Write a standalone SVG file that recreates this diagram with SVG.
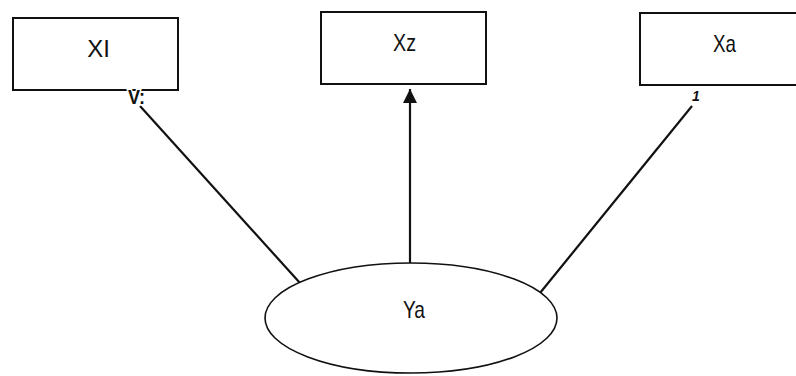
<svg xmlns="http://www.w3.org/2000/svg" width="796" height="376" viewBox="0 0 796 376">
<style>
.box{fill:#fff;stroke:#111;stroke-width:2}
.lbl{font-family:"Liberation Sans",Arial,sans-serif;font-size:24px;fill:#111;text-anchor:middle}
.edge{stroke:#111;stroke-width:2.2;fill:none}
.tag{font-family:"Liberation Sans",Arial,sans-serif;font-weight:bold;fill:#111;stroke:#fff;stroke-width:3;paint-order:stroke}
</style>
<defs>
<marker id="arr" viewBox="0 0 10 10" refX="10" refY="5" markerWidth="6.5" markerHeight="6.5" markerUnits="strokeWidth" orient="auto">
<path d="M0,0 L10,5 L0,10 z" fill="#111"/>
</marker>
</defs>
<rect width="796" height="376" fill="#fff"/>
<g id="edges">
<line class="edge" x1="300" y1="283" x2="140" y2="106"/>
<line class="edge" x1="410" y1="263" x2="410" y2="89" marker-end="url(#arr)"/>
<line class="edge" x1="540" y1="293" x2="692" y2="106"/>
</g>
<g id="node-xl">
<rect class="box" x="13" y="18" width="165" height="72"/>
<text class="lbl" x="98.5" y="57">XI</text>
</g>
<g id="node-xz">
<rect class="box" x="321" y="12" width="165" height="72"/>
<text class="lbl" x="404.5" y="51" textLength="23" lengthAdjust="spacingAndGlyphs">Xz</text>
</g>
<g id="node-xa">
<rect class="box" x="640" y="13" width="160" height="72"/>
<text class="lbl" x="724.5" y="52" textLength="23" lengthAdjust="spacingAndGlyphs">Xa</text>
</g>
<g id="node-ya">
<ellipse cx="411" cy="318" rx="146" ry="55" fill="#fff" stroke="#111" stroke-width="1.6"/>
<text class="lbl" x="414" y="318" textLength="22" lengthAdjust="spacingAndGlyphs">Ya</text>
</g>
<g id="labels">
<text class="tag" x="136.5" y="104" font-size="20" text-anchor="middle" textLength="17" lengthAdjust="spacingAndGlyphs">V:</text>
<text class="tag" x="696" y="101" font-size="14" font-style="italic" text-anchor="middle">1</text>
</g>
</svg>
